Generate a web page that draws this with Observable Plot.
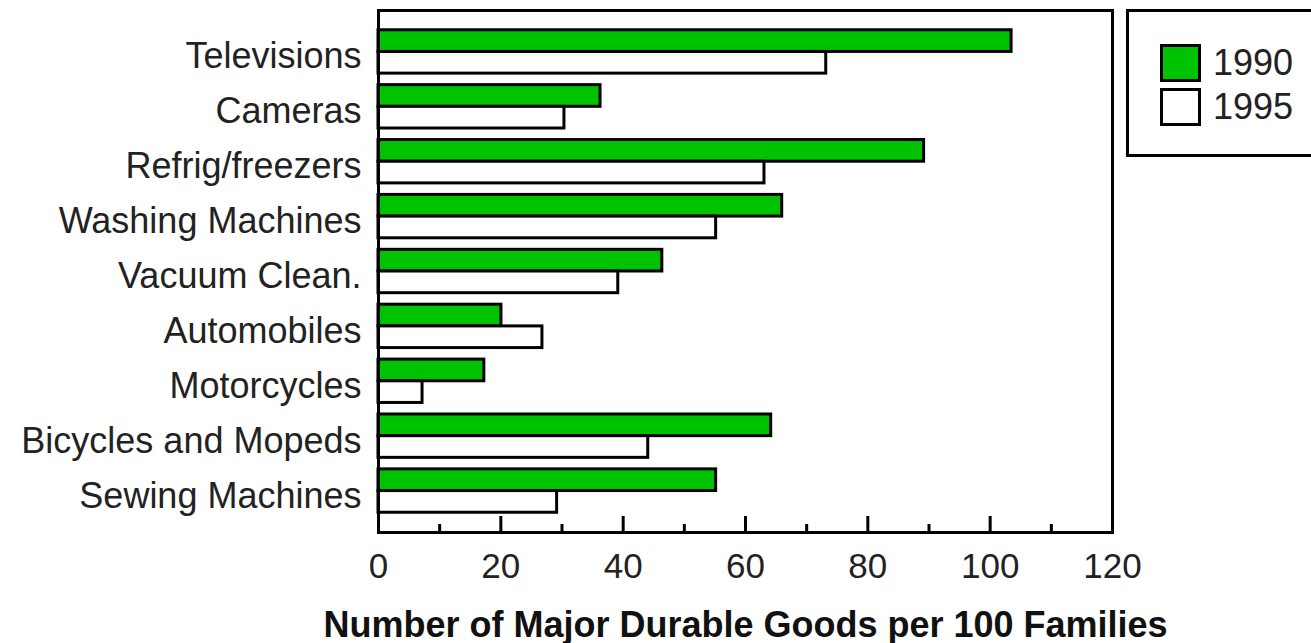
<!DOCTYPE html>
<html>
<head>
<meta charset="utf-8">
<script src="https://cdn.jsdelivr.net/npm/d3@7"></script>
<script src="https://cdn.jsdelivr.net/npm/@observablehq/plot@0.6"></script>
<style>
  html, body { margin: 0; padding: 0; background: #fff; }
  #wrap { position: relative; width: 1311px; height: 643px; overflow: hidden; font-family: "Liberation Sans", Arial, sans-serif; }
  #legend { position: absolute; left: 1126px; top: 9px; width: 220px; height: 142px; border: 3px solid #000; background: #fff; box-sizing: content-box; }
  .item { position: absolute; left: 31px; display: flex; align-items: center; font-size: 36px; color: #222; }
  .sw { width: 35px; height: 32px; border: 3px solid #000; margin-right: 12px; }
</style>
</head>
<body>
<div id="wrap">
  <div id="chart"></div>
  <div id="legend"></div>
</div>
<script>
const categories = ["Televisions", "Cameras", "Refrig/freezers", "Washing Machines", "Vacuum Clean.", "Automobiles", "Motorcycles", "Bicycles and Mopeds", "Sewing Machines"];
const values1990 = [103.5, 36.3, 89.2, 66.0, 46.4, 20.1, 17.3, 64.2, 55.2];
const values1995 = [73.2, 30.4, 63.1, 55.2, 39.2, 26.8, 7.2, 44.1, 29.2];
const years = ["1990", "1995"];
const yearColors = ["#00c300", "#ffffff"];
const majorTicks = [0, 20, 40, 60, 80, 100, 120];
const minorTicks = [10, 30, 50, 70, 90, 110];
const xLabel = "Number of Major Durable Goods per 100 Families";

const data1990 = categories.map((c, i) => ({category: c, value: values1990[i], year: years[0]}));
const data1995 = categories.map((c, i) => ({category: c, value: values1995[i], year: years[1]}));

const plotH = 643 - 10 - 111;
const half = 21.7;

const chart = Plot.plot({
  width: 1311,
  height: 643,
  marginLeft: 378,
  marginRight: 199,
  marginTop: 10,
  marginBottom: 111,
  style: {fontFamily: "'Liberation Sans', Arial, sans-serif", fontSize: "36px", color: "#222", background: "#fff"},
  x: {domain: [0, 120]},
  y: {domain: categories, paddingInner: 0.21, paddingOuter: 0.36, round: false},
  marks: [
    Plot.barX(data1990, {x: "value", y: "category", fill: yearColors[0], stroke: "#000", strokeWidth: 3, insetBottom: half}),
    Plot.barX(data1995, {x: "value", y: "category", fill: yearColors[1], stroke: "#000", strokeWidth: 3, insetTop: half}),
    Plot.ruleX(majorTicks, {x: d => d, stroke: "#000", strokeWidth: 3, insetTop: plotH - 16}),
    Plot.ruleX(minorTicks, {x: d => d, stroke: "#000", strokeWidth: 3, insetTop: plotH - 8}),
    Plot.frame({stroke: "#000", strokeWidth: 3}),
    Plot.axisY({anchor: "left", tickSize: 0, tickPadding: 17, label: null, fontSize: 36, dy: 5}),
    Plot.axisX({anchor: "bottom", ticks: majorTicks, tickSize: 0, tickPadding: 21, label: null, fontSize: 35}),
    Plot.axisX({anchor: "bottom", ticks: [], tickSize: 0, label: xLabel, labelAnchor: "center", labelArrow: "none", labelOffset: 104, fontWeight: "bold", fontSize: 36, fill: "#111"})
  ]
});
document.getElementById("chart").appendChild(chart);

const legend = d3.select("#legend");
years.forEach((y, i) => {
  const item = legend.append("div").attr("class", "item").style("top", (i === 0 ? 30 : 74) + "px");
  item.append("div").attr("class", "sw").style("background", yearColors[i]);
  item.append("span").text(y);
});
</script>
</body>
</html>
